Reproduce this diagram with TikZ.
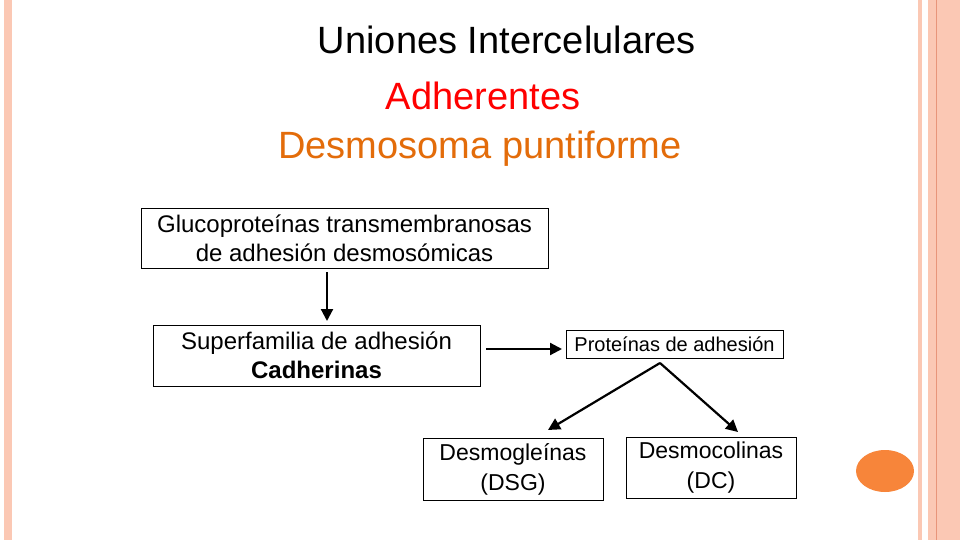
\documentclass[tikz,border=0pt]{standalone}
\usepackage{fontspec}
\setmainfont{Liberation Sans}
\usetikzlibrary{arrows.meta}
\definecolor{pinkb}{HTML}{FBC8B4}
\definecolor{pinkd}{HTML}{E8957A}
\definecolor{orng}{HTML}{F7853A}
\definecolor{dorng}{HTML}{E36C0A}
\begin{document}
\begin{tikzpicture}[x=1pt,y=-1pt,
 box/.style={draw,line width=0.8pt,align=center,inner sep=0pt,font=\fontsize{24}{29}\selectfont},
 arr/.style={line width=2.2pt,-{Triangle[length=12pt,width=12pt]}}]
\useasboundingbox (0,0) rectangle (960,540);
\fill[white] (0,0) rectangle (960,540);
\fill[pinkb] (4,0) rectangle (12,540);
\fill[pinkb] (918,0) rectangle (922,540);
\fill[pinkb] (928,0) rectangle (960,540);
\draw[pinkd,line width=0.6pt] (936,0) -- (936,540);
\fill[orng] (885,471) ellipse [x radius=29, y radius=21];
\node (t1) at (507,40) {\fontsize{38}{42}\selectfont Uniones Intercelulares};
\node[red] (t2) at (483,96) {\fontsize{38}{42}\selectfont Adherentes};
\node[dorng] (t3) at (480,149) {\fontsize{38}{42}\selectfont Desmosoma puntiforme};
\node[box,minimum width=407,minimum height=60] (b1) at (344.5,238) {Glucoproteínas transmembranosas\\de adhesión desmosómicas};
\node[box,minimum width=327,minimum height=61] (b2) at (316.5,355.5) {Superfamilia de adhesión\\\textbf{Cadherinas}};
\node[box,minimum width=217,minimum height=28,font=\fontsize{20}{24}\selectfont] (b3) at (674.5,344) {Proteínas de adhesión};
\node[box,minimum width=180,minimum height=62,font=\fontsize{23}{30}\selectfont] (b4) at (513,469) {Desmogleínas\\(DSG)};
\node[box,minimum width=170,minimum height=61,font=\fontsize{23}{30}\selectfont] (b5) at (711,467.5) {Desmocolinas\\(DC)};
\coordinate (s) at (660,363);
\draw[arr] (327,272) -- (327,321);
\draw[arr] (486,349) -- (562,349);
\draw[arr] (s) -- (548,430);
\draw[arr] (s) -- (738,432);
\end{tikzpicture}
\end{document}
